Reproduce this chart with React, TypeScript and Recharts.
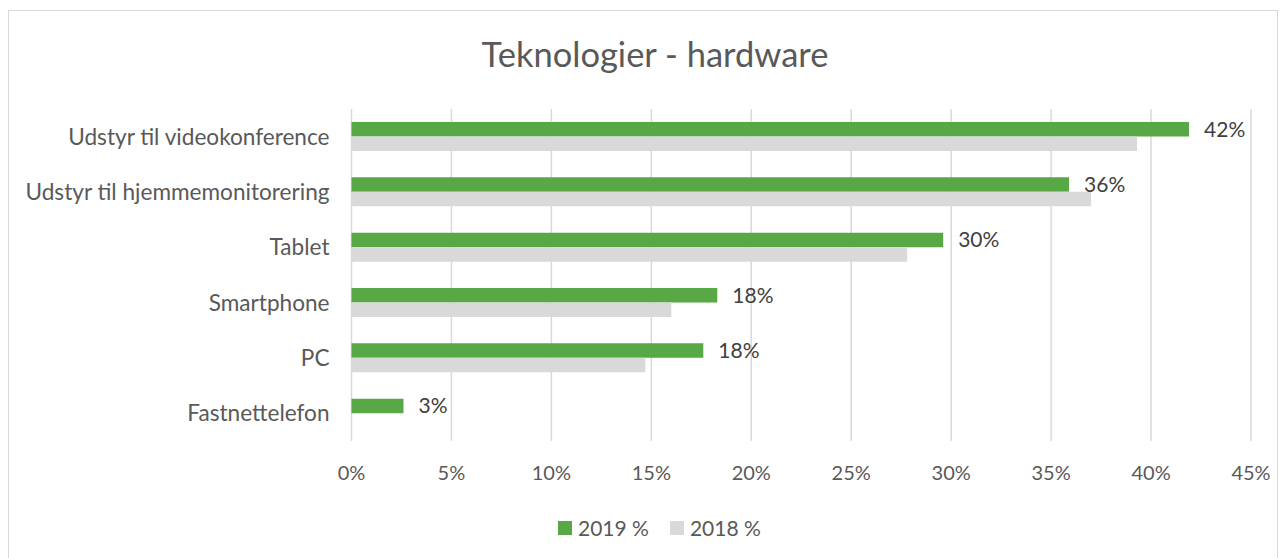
import React from "react";
import { BarChart, Bar, XAxis, YAxis, CartesianGrid, LabelList } from "recharts";

const categories = [
  "Udstyr til videokonference",
  "Udstyr til hjemmemonitorering",
  "Tablet",
  "Smartphone",
  "PC",
  "Fastnettelefon",
];
const values2019 = [41.9, 35.9, 29.6, 18.3, 17.6, 2.6];
const values2018 = [39.3, 37.0, 27.8, 16.0, 14.7, 0];
const labels2019 = ["42%", "36%", "30%", "18%", "18%", "3%"];
const xTicks = [0, 5, 10, 15, 20, 25, 30, 35, 40, 45];

const GREEN = "#58A846";
const GRAY = "#D9D9D9";
const FONT = "Lato, 'Open Sans', sans-serif";

const data = categories.map((c, i) => ({
  name: c,
  y2019: values2019[i],
  y2018: values2018[i],
  label: labels2019[i],
}));

export default function App() {
  return (
    <div
      style={{
        position: "relative",
        marginTop: 2,
        width: 1270,
        height: 560,
        border: "1px solid #d9d9d9",
        boxSizing: "border-box",
        background: "#fff",
        fontFamily: FONT,
      }}
    >
      <div
        style={{
          position: "absolute",
          left: 0,
          width: 1292,
          top: 22,
          textAlign: "center",
          fontSize: 34.5,
          color: "#595959",
        }}
      >
        Teknologier - hardware
      </div>
      <BarChart
        width={1268}
        height={547}
        data={data}
        layout="vertical"
        margin={{ top: 98, right: 26, bottom: 77, left: 0 }}
        barGap={0}
        barCategoryGap="23.8%"
      >
        <CartesianGrid horizontal={false} stroke={GRAY} strokeWidth={1.5} />
        <XAxis
          type="number"
          domain={[0, 45]}
          ticks={xTicks}
          tickFormatter={(v) => `${v}%`}
          axisLine={false}
          tickLine={false}
          tickSize={0}
          tickMargin={25}
          height={40}
          interval={0}
          tick={{ fill: "#595959", fontSize: 20, fontFamily: FONT }}
        />
        <YAxis
          type="category"
          dataKey="name"
          width={342.5}
          axisLine={false}
          tickLine={false}
          tickSize={0}
          tickMargin={22}
          interval={0}
          tick={{ fill: "#595959", fontSize: 22.6, fontFamily: FONT }}
        />
        <Bar dataKey="y2019" fill={GREEN} barSize={14.5} isAnimationActive={false}>
          <LabelList
            dataKey="label"
            position="right"
            offset={15}
            fill="#404040"
            fontSize={21}
            fontFamily={FONT}
          />
        </Bar>
        <Bar dataKey="y2018" fill={GRAY} barSize={14.5} isAnimationActive={false} />
      </BarChart>
      <div
        style={{
          position: "absolute",
          top: 504,
          left: 549,
          display: "flex",
          alignItems: "center",
          fontSize: 21,
          color: "#595959",
          whiteSpace: "nowrap",
        }}
      >
        <span style={{ width: 14, height: 14, background: GREEN, display: "inline-block", marginRight: 6 }} />
        <span style={{ marginRight: 21 }}>2019 %</span>
        <span style={{ width: 14, height: 14, background: GRAY, display: "inline-block", marginRight: 6 }} />
        <span>2018 %</span>
      </div>
    </div>
  );
}
